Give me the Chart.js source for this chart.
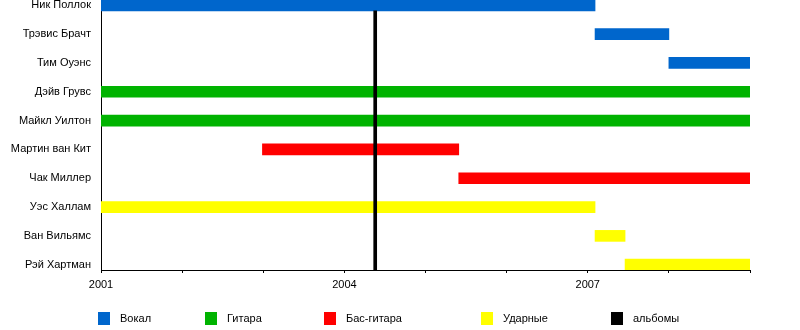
<!DOCTYPE html>
<html lang="ru">
<head>
<meta charset="utf-8">
<title>Состав группы</title>
<script src="https://cdn.jsdelivr.net/npm/chart.js@4/dist/chart.umd.min.js"></script>
<style>
  html, body { margin: 0; padding: 0; background: #fff; }
  canvas { display: block; }
</style>
</head>
<body>
<canvas id="timeline" width="800" height="330"></canvas>
<script>
// ─── Данные ───────────────────────────────────────────────────────────────────
const MEMBERS = [
  'Ник Поллок', 'Трэвис Брачт', 'Тим Оуэнс', 'Дэйв Грувс', 'Майкл Уилтон',
  'Мартин ван Кит', 'Чак Миллер', 'Уэс Халлам', 'Ван Вильямс', 'Рэй Хартман',
];
const ROLES = ['Вокал', 'Гитара', 'Бас-гитара', 'Ударные'];

// [участник, начало, конец] — годы дробью
const VOCAL_PERIODS  = [['Ник Поллок', 2001, 2007.09], ['Трэвис Брачт', 2007.09, 2008.0], ['Тим Оуэнс', 2008.0, 2009]];
const GUITAR_PERIODS = [['Дэйв Грувс', 2001, 2009], ['Майкл Уилтон', 2001, 2009]];
const BASS_PERIODS   = [['Мартин ван Кит', 2002.99, 2005.41], ['Чак Миллер', 2005.41, 2009]];
const DRUM_PERIODS   = [['Уэс Халлам', 2001, 2007.09], ['Ван Вильямс', 2007.09, 2007.46], ['Рэй Хартман', 2007.46, 2009]];

const ALBUM_LABEL = 'альбомы';
const ALBUMS      = [2004.38];

const YEAR_MIN = 2001;
const YEAR_MAX = 2009;
const LABELED_YEARS = [2001, 2004, 2007];

// ─── Стиль ────────────────────────────────────────────────────────────────────
const ROLE_COLORS = ['rgb(0,102,204)', 'rgb(0,179,0)', 'rgb(255,0,0)', 'rgb(255,255,0)'];
const FONT = { family: '"Liberation Sans", Arial, sans-serif', size: 11 };
const ROW_MIN = -0.184, ROW_MAX = 9.184;   // полстроки сверху/снизу
const LEGEND_X = [98, 205, 324, 481, 611];

function toBars(periods) {
  return periods.map(([name, from, till]) => ({ x: [from, till], y: MEMBERS.indexOf(name) }));
}

const rolePeriods = [VOCAL_PERIODS, GUITAR_PERIODS, BASS_PERIODS, DRUM_PERIODS];

const datasets = ROLES.map((role, i) => ({
  type: 'bar',
  label: role,
  data: toBars(rolePeriods[i]),
  backgroundColor: ROLE_COLORS[i],
  borderWidth: 0,
  barThickness: 11,
  grouped: false,
  order: 1,
}));

// альбомы — вертикальная полоса от нижнего края первой строки до оси
datasets.push({
  type: 'bar',
  indexAxis: 'x',
  label: ALBUM_LABEL,
  data: ALBUMS.map(year => ({ x: year, y: [0.19, ROW_MAX] })),
  backgroundColor: '#000',
  borderWidth: 0,
  barThickness: 3,
  grouped: false,
  order: 0,
});

// ─── Легенда по колонкам ──────────────────────────────────────────────────────
const columnLegend = {
  id: 'columnLegend',
  afterDraw(chart) {
    const ctx = chart.ctx;
    const seen = new Set();
    let col = 0;
    ctx.save();
    ctx.font = `${FONT.size}px ${FONT.family}`;
    ctx.textBaseline = 'middle';
    ctx.textAlign = 'left';
    chart.data.datasets.forEach(ds => {
      if (seen.has(ds.label)) return;
      seen.add(ds.label);
      const x = LEGEND_X[col++];
      ctx.fillStyle = ds.backgroundColor;
      ctx.fillRect(x, 312, 12, 13);
      ctx.fillStyle = '#000';
      ctx.fillText(ds.label, x + 22, 319);
    });
    ctx.restore();
  },
};

// ─── График ───────────────────────────────────────────────────────────────────
new Chart(document.getElementById('timeline'), {
  type: 'bar',
  data: { datasets },
  plugins: [columnLegend],
  options: {
    responsive: false,
    animation: false,
    indexAxis: 'y',
    layout: { padding: { top: 0, right: 50, bottom: 0, left: 0 } },
    plugins: { legend: { display: false }, tooltip: { enabled: false } },
    scales: {
      x: {
        type: 'linear',
        min: YEAR_MIN,
        max: YEAR_MAX,
        offset: false,
        afterFit: s => { s.height = 60; s.paddingLeft = 0; s.paddingRight = 0; },
        border: { color: '#000', width: 1 },
        grid: { drawOnChartArea: false, drawTicks: true, tickLength: 3, color: '#000', offset: false },
        ticks: {
          stepSize: 1,
          autoSkip: false,
          maxRotation: 0,
          padding: 5,
          color: '#000',
          font: FONT,
          callback: v => LABELED_YEARS.includes(v) ? String(v) : '',
        },
      },
      y: {
        type: 'linear',
        reverse: true,
        min: ROW_MIN,
        max: ROW_MAX,
        offset: false,
        afterFit: s => { s.width = 101; s.paddingTop = 0; s.paddingBottom = 0; },
        afterBuildTicks: s => { s.ticks = MEMBERS.map((_, i) => ({ value: i })); },
        border: { color: '#000', width: 1 },
        grid: { display: false, drawTicks: false, offset: false },
        ticks: {
          padding: 10,
          color: '#000',
          font: FONT,
          callback: v => MEMBERS[v] ?? '',
        },
      },
    },
  },
});
</script>
</body>
</html>
